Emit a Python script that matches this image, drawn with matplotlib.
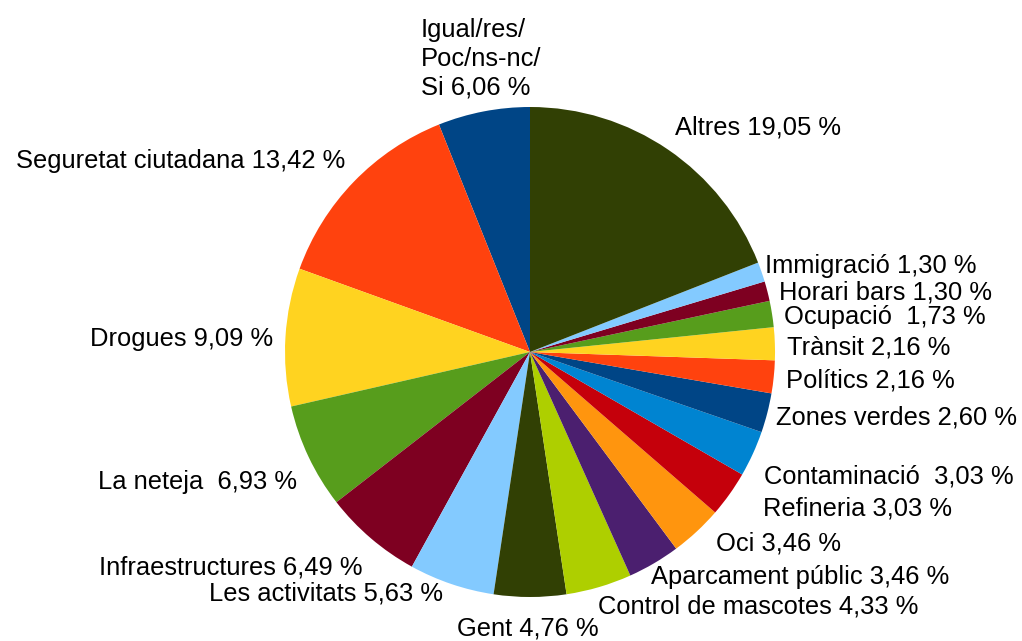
import numpy as np
import matplotlib.pyplot as plt

plt.rcParams['font.family'] = ['Liberation Sans', 'DejaVu Sans']

# data in original order (drawn counterclockwise from the top)
labels = ['Igual/res/\nPoc/ns-nc/\nSi', 'Seguretat ciutadana', 'Drogues', 'La neteja ',
          'Infraestructures', 'Les activitats', 'Gent', 'Control de mascotes',
          'Aparcament públic', 'Oci', 'Refineria', 'Contaminació ', 'Zones verdes',
          'Polítics', 'Trànsit', 'Ocupació ', 'Horari bars', 'Immigració', 'Altres']
values = [6.06, 13.42, 9.09, 6.93, 6.49, 5.63, 4.76, 4.33, 3.46, 3.46, 3.03, 3.03,
          2.60, 2.16, 2.16, 1.73, 1.30, 1.30, 19.05]
palette = ['#004586', '#ff420e', '#ffd320', '#579d1c', '#7e0021', '#83caff',
           '#314004', '#aecf00', '#4b1f6f', '#ff950e', '#c5000b', '#0084d1']
colors = [palette[i % len(palette)] for i in range(len(values))]

# small label nudges in pixels (right, down) to mimic the original label layout
nudge = {3: (0, 8), 4: (0, 8), 5: (-5, -14), 6: (-2, 7), 7: (-5, -4), 8: (-9, -9),
         9: (11, -9), 10: (23, -5), 11: (0, 6), 12: (-3, 1), 13: (0, 2), 14: (0, 4),
         15: (0, 5), 16: (0, 4), 17: (-8, -2), 2: (0, 3)}

W, H = 1022, 641
cx, cy, rad = 530, 352, 245   # pixel centre / radius of the pie

fig = plt.figure(figsize=(W / 100, H / 100), dpi=100)
ax = fig.add_axes([0, 0, 1, 1])
wedges, _ = ax.pie(values, colors=colors, startangle=90, counterclock=True,
                   wedgeprops=dict(linewidth=0))
ax.set_xlim(-cx / rad, (W - cx) / rad)
ax.set_ylim(-(H - cy) / rad, cy / rad)
ax.set_aspect('auto')
ax.axis('off')

for i, (w, lab, v) in enumerate(zip(wedges, labels, values)):
    ang = np.deg2rad((w.theta1 + w.theta2) / 2)
    c, s = np.cos(ang), np.sin(ang)
    dx, dy = nudge.get(i, (0, 0))
    x = 1.05 * c + dx / rad
    y = 1.05 * s - dy / rad
    if abs(c) < 0.2:
        ha = 'center'
    else:
        ha = 'left' if c > 0 else 'right'
    if s > 0.35:
        va = 'bottom'
    elif s < -0.35:
        va = 'top'
    else:
        va = 'center'
    txt = '%s %s %%' % (lab, ('%.2f' % v).replace('.', ','))
    ax.text(x, y, txt, ha=ha, va=va, fontsize=18.4, multialignment='left',
            linespacing=1.25)

plt.savefig('out.png', dpi=100)
